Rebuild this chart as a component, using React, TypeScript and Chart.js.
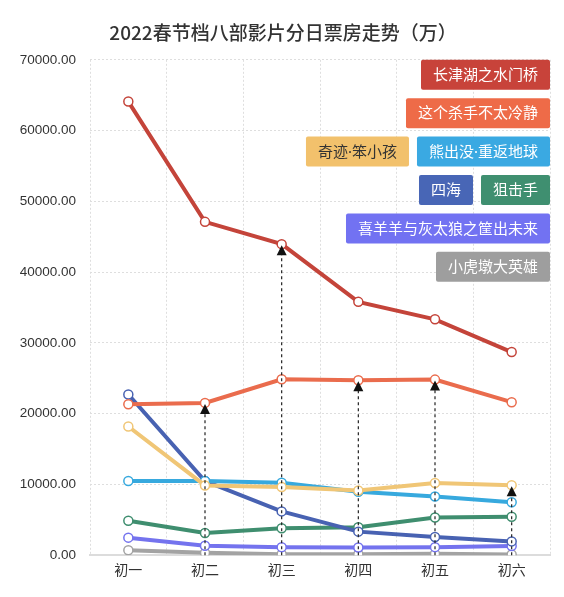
import React, { useEffect, useRef } from "react";
import { Chart, registerables } from "chart.js";

Chart.register(...registerables);

const TITLE = "2022春节档八部影片分日票房走势（万）";
const days = ["初一", "初二", "初三", "初四", "初五", "初六"];
const films = [
  "长津湖之水门桥",
  "这个杀手不太冷静",
  "奇迹·笨小孩",
  "熊出没·重返地球",
  "四海",
  "狙击手",
  "喜羊羊与灰太狼之筐出未来",
  "小虎墩大英雄",
];
const changjinhu = [64100, 47100, 43950, 35800, 33330, 28700];
const shashou = [21330, 21520, 24860, 24710, 24810, 21620];
const qiji = [18190, 9860, 9620, 9140, 10190, 9900];
const xiongchumei = [10480, 10480, 10240, 8950, 8290, 7480];
const sihai = [22710, 10480, 6190, 3330, 2570, 1950];
const jujishou = [4860, 3140, 3810, 3950, 5330, 5430];
const xiyangyang = [2480, 1330, 1140, 1100, 1140, 1290];
const xiaohudun = [710, 330, 140, 140, 190, 95];
const seriesValues = [changjinhu, shashou, qiji, xiongchumei, sihai, jujishou, xiyangyang, xiaohudun];
// film index each day's dashed arrow points at (null = no arrow)
const arrowFilm: (number | null)[] = [null, 1, 0, 1, 1, 2];
// legend rows (film indexes), right-aligned
const legendRows = [[0], [1], [2, 3], [4, 5], [6], [7]];

const lineColors = ["#c4443a", "#ea6c4d", "#f0c676", "#37a9de", "#4862b2", "#3f8e6f", "#7473ee", "#a3a3a3"];
const boxColors = ["#c8433a", "#ee6b48", "#f2c16c", "#3aa9e2", "#4866b6", "#3f8f70", "#7272f2", "#9e9e9e"];
const boxTextColors = ["#fff", "#fff", "#333", "#fff", "#fff", "#fff", "#fff", "#fff"];

const CJK = '"Noto Sans CJK SC", "Noto Sans", sans-serif';
const NUM = '"Liberation Sans", "Noto Sans CJK SC", sans-serif';
const BOXFONT = '"Noto Sans", "Noto Sans CJK SC", sans-serif';

const arrowPlugin = {
  id: "arrows",
  afterDatasetsDraw(chart: any) {
    const ctx = chart.ctx;
    const bottom = chart.chartArea.bottom;
    ctx.save();
    arrowFilm.forEach((fi, i) => {
      if (fi === null) return;
      const pt = chart.getDatasetMeta(fi).data[i];
      if (!pt) return;
      const x = pt.x;
      const y = pt.y;
      ctx.strokeStyle = "#222";
      ctx.lineWidth = 1.2;
      ctx.setLineDash([3, 3]);
      ctx.beginPath();
      ctx.moveTo(x, bottom);
      ctx.lineTo(x, y + 10);
      ctx.stroke();
      ctx.setLineDash([]);
      ctx.fillStyle = "#111";
      ctx.beginPath();
      ctx.moveTo(x, y + 1);
      ctx.lineTo(x - 5, y + 11);
      ctx.lineTo(x + 5, y + 11);
      ctx.closePath();
      ctx.fill();
    });
    ctx.restore();
  },
};

const boxLegendPlugin = {
  id: "boxLegend",
  afterDatasetsDraw(chart: any) {
    const ctx = chart.ctx;
    const { right, top } = chart.chartArea;
    const rowH = 30;
    const rowGap = 8.4;
    const padX = 12;
    const gap = 8;
    ctx.save();
    ctx.font = `15px ${BOXFONT}`;
    ctx.textBaseline = "middle";
    ctx.textAlign = "center";
    legendRows.forEach((row, r) => {
      const y = top + r * (rowH + rowGap);
      let x = right;
      for (let k = row.length - 1; k >= 0; k--) {
        const fi = row[k];
        const w = ctx.measureText(films[fi]).width + padX * 2;
        x -= w;
        ctx.fillStyle = boxColors[fi];
        ctx.beginPath();
        ctx.roundRect(x, y, w, rowH, 2);
        ctx.fill();
        ctx.fillStyle = boxTextColors[fi];
        ctx.fillText(films[fi], x + w / 2, y + rowH / 2 + 1);
        x -= gap;
      }
    });
    ctx.restore();
  },
};

export default function App() {
  const ref = useRef<HTMLCanvasElement>(null);
  useEffect(() => {
    if (!ref.current) return;
    const chart = new Chart(ref.current, {
      type: "line",
      data: {
        labels: days,
        datasets: films.map((name, i) => ({
          label: name,
          data: seriesValues[i],
          borderColor: lineColors[i],
          backgroundColor: lineColors[i],
          borderWidth: 4,
          pointRadius: 4.5,
          pointBorderWidth: 1.5,
          pointBackgroundColor: "#fff",
          pointBorderColor: lineColors[i],
          tension: 0,
          fill: false,
        })),
      },
      options: {
        animation: false,
        responsive: true,
        maintainAspectRatio: false,
        layout: { padding: { left: 8, right: 6, top: 0, bottom: 5 } },
        plugins: {
          legend: { display: false },
          tooltip: { enabled: false },
          title: {
            display: true,
            text: TITLE,
            color: "#333",
            font: { size: 19, family: CJK, weight: "500" },
            padding: { top: 13, bottom: 16 },
          },
        },
        scales: {
          x: {
            offset: true,
            grid: { offset: true, color: "#dedede", drawTicks: false, lineWidth: 1 },
            border: { display: true, color: "#dcdcdc", width: 2, dash: [2, 2] },
            ticks: { padding: 6, color: "#333", font: { size: 14, family: CJK } },
          },
          y: {
            min: 0,
            max: 70000,
            afterFit: (scale: any) => {
              scale.width = 74;
            },
            ticks: {
              stepSize: 10000,
              padding: 14,
              color: "#333",
              font: { size: 13.5, family: NUM },
              callback: (v: any) => Number(v).toFixed(2),
            },
            grid: { color: "#dedede", drawTicks: false, lineWidth: 1 },
            border: { display: false, dash: [2, 2] },
          },
        },
      },
      plugins: [arrowPlugin, boxLegendPlugin],
    });
    return () => chart.destroy();
  }, []);
  return (
    <div style={{ width: 548, height: 581, position: "relative" }}>
      <canvas ref={ref} />
    </div>
  );
}
